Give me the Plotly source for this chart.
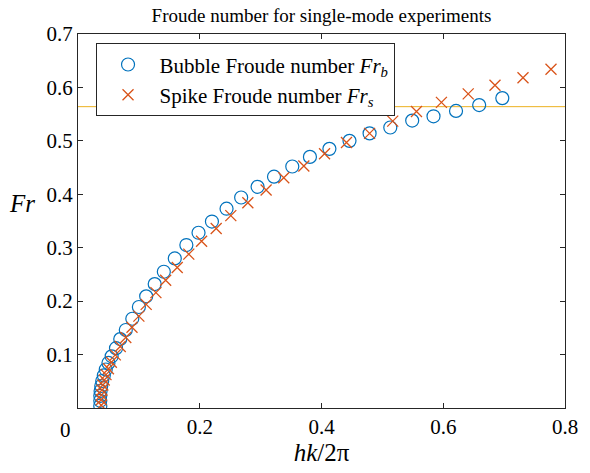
import plotly.graph_objects as go

# Bubble Froude number data
bubble_x = [0.0366, 0.0366, 0.0366, 0.0371, 0.0382, 0.0398, 0.0424, 0.0456, 0.0500, 0.0553,
            0.0624, 0.0694, 0.0785, 0.0892, 0.100, 0.112, 0.126, 0.141, 0.159, 0.178,
            0.198, 0.220, 0.244, 0.268, 0.295, 0.322, 0.352, 0.381, 0.413, 0.446,
            0.479, 0.513, 0.549, 0.584, 0.621, 0.659, 0.697]
bubble_y = [0.0043, 0.0135, 0.0227, 0.0320, 0.0412, 0.0505, 0.0610, 0.0721, 0.0843, 0.0967,
            0.112, 0.129, 0.146, 0.167, 0.189, 0.209, 0.232, 0.255, 0.280, 0.305,
            0.328, 0.349, 0.373, 0.394, 0.414, 0.433, 0.452, 0.470, 0.485, 0.500,
            0.514, 0.525, 0.538, 0.546, 0.556, 0.567, 0.580]

# Spike Froude number data
spike_x = [0.0382, 0.0382, 0.0385, 0.0394, 0.0408, 0.0431, 0.0460, 0.0500, 0.0548, 0.0613,
           0.0694, 0.0785, 0.0887, 0.100, 0.112, 0.128, 0.144, 0.163, 0.182, 0.203,
           0.227, 0.251, 0.279, 0.309, 0.338, 0.371, 0.405, 0.441, 0.479, 0.517,
           0.556, 0.597, 0.641, 0.685, 0.731, 0.777]
spike_y = [0.0052, 0.0153, 0.0246, 0.0338, 0.0431, 0.0523, 0.0625, 0.0736, 0.0856, 0.0994,
           0.115, 0.132, 0.151, 0.172, 0.194, 0.216, 0.239, 0.263, 0.288, 0.312,
           0.336, 0.360, 0.384, 0.408, 0.431, 0.453, 0.476, 0.497, 0.514, 0.537,
           0.555, 0.572, 0.588, 0.604, 0.618, 0.634]

threshold = 0.564
x_ticks = [0, 0.2, 0.4, 0.6, 0.8]
x_ticktext = ["", "0.2", "0.4", "0.6", "0.8"]
y_ticks = [0.1, 0.2, 0.3, 0.4, 0.5, 0.6, 0.7]
y_ticktext = ["0.1", "0.2", "0.3", "0.4", "0.5", "0.6", "0.7"]

FONT = "Liberation Serif"
AX = "#262626"

fig = go.Figure()
fig.add_trace(go.Scatter(
    x=[0, 0.8], y=[threshold, threshold], mode="lines",
    line=dict(color="#EDB120", width=1), showlegend=False, hoverinfo="skip"))
fig.add_trace(go.Scatter(
    x=bubble_x, y=bubble_y, mode="markers",
    name="Bubble Froude number <i>Fr<sub>b</sub></i>",
    marker=dict(symbol="circle-open", size=13, color="#0072BD",
                line=dict(width=1.2, color="#0072BD"))))
fig.add_trace(go.Scatter(
    x=spike_x, y=spike_y, mode="markers",
    name="Spike Froude number <i>Fr<sub>s</sub></i>",
    marker=dict(symbol="x-thin-open", size=11, color="#D95319",
                line=dict(width=1.3, color="#D95319"))))

fig.update_layout(
    width=590, height=473,
    margin=dict(l=78, r=16, t=34, b=61),
    paper_bgcolor="white", plot_bgcolor="white",
    title=dict(text="Froude number for single-mode experiments",
               font=dict(family=FONT, size=19, color="black"),
               x=0.5, xref="paper", xanchor="center",
               y=1 - 15 / 473, yref="container", yanchor="middle"),
    xaxis=dict(range=[0, 0.8], tickvals=x_ticks, ticktext=x_ticktext,
               title=dict(text="<i>hk</i>/2π", font=dict(family=FONT, size=25, color="black"),
                          standoff=4),
               showline=True, linecolor=AX, linewidth=1, mirror="ticks",
               ticks="inside", ticklen=5, tickcolor=AX, tickwidth=1,
               showgrid=False, zeroline=False,
               tickfont=dict(family=FONT, size=21, color="black")),
    yaxis=dict(range=[0, 0.7], tickvals=y_ticks, ticktext=y_ticktext,
               showline=True, linecolor=AX, linewidth=1, mirror="ticks",
               ticks="inside", ticklen=5, tickcolor=AX, tickwidth=1,
               showgrid=False, zeroline=False,
               tickfont=dict(family=FONT, size=21, color="black")),
    legend=dict(x=0.036, y=0.975, xanchor="left", yanchor="top",
                bgcolor="white", bordercolor=AX, borderwidth=1,
                font=dict(family=FONT, size=21, color="black"),
                itemwidth=53, tracegroupgap=0),
    showlegend=True,
)

fig.add_annotation(text="<i>Fr</i>", xref="paper", yref="paper",
                   x=-0.115, y=(412.3 - 205) / 378.8, xanchor="center", yanchor="middle",
                   showarrow=False, font=dict(family=FONT, size=25, color="black"))
fig.add_annotation(text="0", xref="paper", yref="paper",
                   x=(65 - 78) / 496, y=0, xanchor="center", yanchor="top", yshift=-8,
                   showarrow=False, font=dict(family=FONT, size=21, color="black"))

fig.write_html("out.html")
